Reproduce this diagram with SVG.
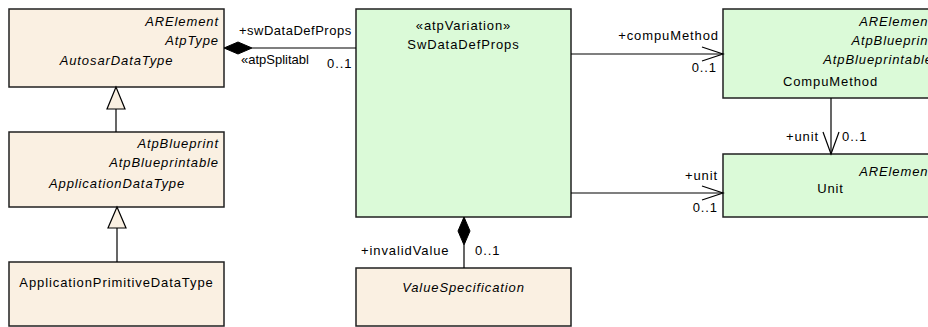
<svg xmlns="http://www.w3.org/2000/svg" width="928" height="327" viewBox="0 0 928 327">
<defs>
<style>
.t{font-family:"Liberation Sans",Arial,sans-serif;font-size:13px;letter-spacing:0.9px;fill:#000}
.i{font-style:italic}
.e{text-anchor:end}
.m{text-anchor:middle}
.b{fill:#FAF0E2;stroke:#202020;stroke-width:1.5}
.g{fill:#DBFAD8;stroke:#202020;stroke-width:1.5}
.l{fill:none;stroke:#000;stroke-width:1.2}
.d{fill:#000;stroke:#000;stroke-width:1}
.tri{fill:#FAF0E2;stroke:#000;stroke-width:1.2}
</style>
<clipPath id="splitClip"><rect x="236" y="50" width="73" height="20"/></clipPath>
</defs>
<rect width="928" height="327" fill="#fff"/>

<g id="AutosarDataType">
<rect class="b" x="9" y="9" width="215" height="78"/>
<text class="t i e" x="219" y="26">ARElement</text>
<text class="t i e" x="219" y="45">AtpType</text>
<text class="t i m" x="116.5" y="65">AutosarDataType</text>
</g>

<g id="ApplicationDataType">
<rect class="b" x="9" y="132" width="215" height="75"/>
<text class="t i e" x="219" y="148">AtpBlueprint</text>
<text class="t i e" x="219" y="167">AtpBlueprintable</text>
<text class="t i m" x="117" y="188">ApplicationDataType</text>
</g>

<g id="ApplicationPrimitiveDataType">
<rect class="b" x="9" y="262" width="215" height="64"/>
<text class="t m" x="116.5" y="287">ApplicationPrimitiveDataType</text>
</g>

<g id="SwDataDefProps">
<rect class="g" x="356" y="9" width="215" height="208"/>
<text class="t m" x="463.5" y="30">«atpVariation»</text>
<text class="t m" x="463.5" y="49">SwDataDefProps</text>
</g>

<g id="CompuMethod">
<rect class="g" x="723" y="9" width="215" height="89"/>
<text class="t i e" x="933" y="26">ARElement</text>
<text class="t i e" x="933" y="45">AtpBlueprint</text>
<text class="t i e" x="933" y="64">AtpBlueprintable</text>
<text class="t m" x="830.5" y="86">CompuMethod</text>
</g>

<g id="Unit">
<rect class="g" x="723" y="154" width="215" height="63"/>
<text class="t i e" x="933" y="176">ARElement</text>
<text class="t m" x="830.5" y="193">Unit</text>
</g>

<g id="ValueSpecification">
<rect class="b" x="356" y="268" width="215" height="58"/>
<text class="t i m" x="463.5" y="292">ValueSpecification</text>
</g>

<g id="connectors">
<line class="l" x1="116" y1="132" x2="116" y2="109"/>
<polygon class="tri" points="116,87 107,109 125,109"/>
<line class="l" x1="117" y1="262" x2="117" y2="228"/>
<polygon class="tri" points="117,207 108,228 126,228"/>

<line class="l" x1="252" y1="48" x2="356" y2="48"/>
<polygon class="d" points="224,48 238,42 252,48 238,54"/>
<text class="t" x="239" y="35" style="letter-spacing:0.5px">+swDataDefProps</text>
<text class="t" x="241" y="64" style="letter-spacing:0" clip-path="url(#splitClip)">«atpSplitable»</text>
<text class="t" x="327" y="68">0..1</text>

<line class="l" x1="571" y1="54" x2="723" y2="54"/>
<polyline class="l" points="702,47 723,54 702,61"/>
<text class="t e" x="719" y="40">+compuMethod</text>
<text class="t e" x="717" y="72">0..1</text>

<line class="l" x1="831" y1="98" x2="831" y2="154"/>
<polyline class="l" points="823,132 831,154 839,132"/>
<text class="t e" x="819" y="141">+unit</text>
<text class="t" x="842" y="141">0..1</text>

<line class="l" x1="571" y1="193" x2="723" y2="193"/>
<polyline class="l" points="702,186 723,193 702,200"/>
<text class="t e" x="718" y="180">+unit</text>
<text class="t e" x="718" y="212">0..1</text>

<line class="l" x1="464" y1="245" x2="464" y2="268"/>
<polygon class="d" points="464,217 458,231 464,245 470,231"/>
<text class="t" x="361" y="255">+invalidValue</text>
<text class="t" x="475" y="255">0..1</text>
</g>
</svg>
